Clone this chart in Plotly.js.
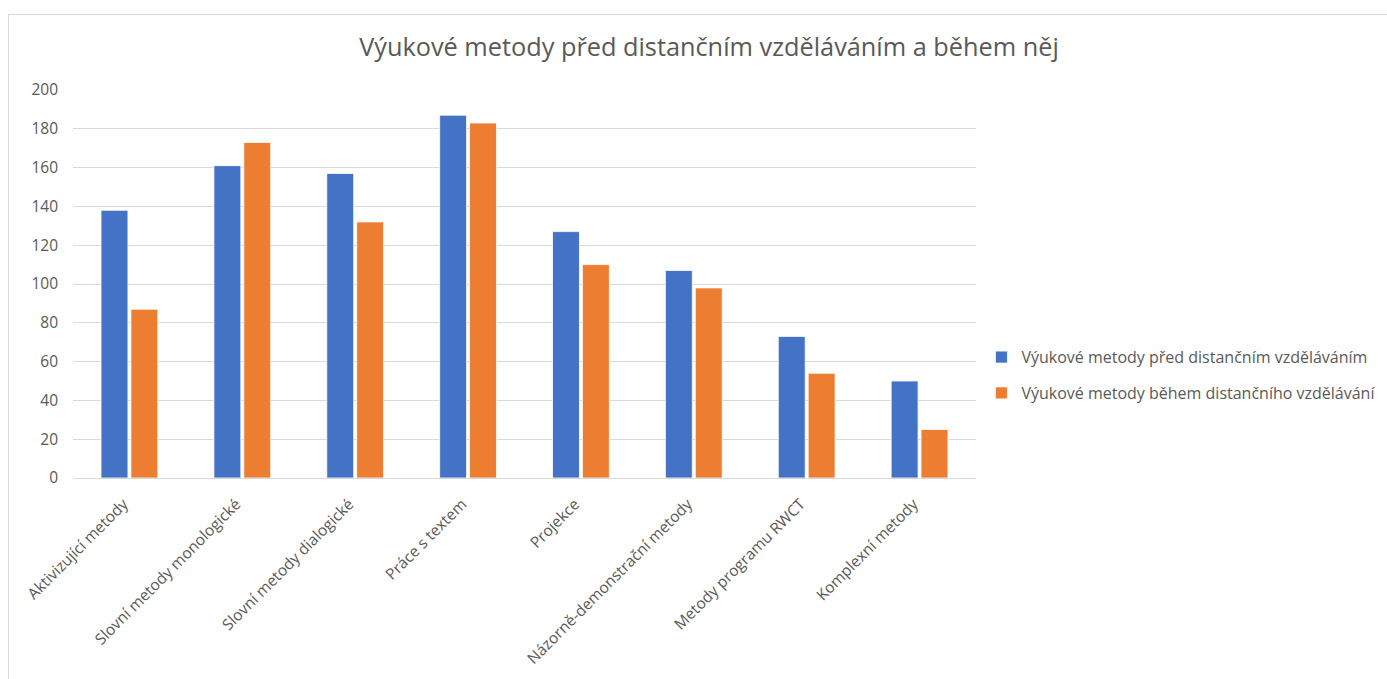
<!DOCTYPE html>
<html>
<head>
<meta charset="utf-8">
<script src="https://cdn.plot.ly/plotly-3.0.1.min.js"></script>
<style>
  html,body{margin:0;padding:0;background:#fff;overflow:hidden}
  #frame{position:absolute;left:8px;top:14px;width:1379px;height:665px;border-left:1px solid #d9d9d9;border-top:1px solid #d9d9d9;overflow:hidden}
  #chart{width:1420px;height:664px}
</style>
</head>
<body>
<div id="frame"><div id="chart"></div></div>
<script>
// ────── data ──────
const categories=[
  'Aktivizující metody',
  'Slovní metody monologické',
  'Slovní metody dialogické',
  'Práce s textem',
  'Projekce',
  'Názorně-demonstrační metody',
  'Metody programu RWCT',
  'Komplexní metody'
];
const beforeName='Výukové metody před distančním vzděláváním';
const duringName='Výukové metody během distančního vzdělávání';
const beforeVals=[138,161,157,187,127,107,73,50];
const duringVals=[87,173,132,183,110,98,54,25];
const yTicks=[0,20,40,60,80,100,120,140,160,180,200];

const textCol='#595959';
const gridCol='#d9d9d9';
const font='"Open Sans", "Noto Sans", sans-serif';

const traces=[
  {type:'bar',name:beforeName,x:categories,y:beforeVals,legendgroup:'a',
   marker:{color:'#4472c4',line:{color:'#fff',width:0.8}},hoverinfo:'x+y'},
  {type:'bar',name:duringName,x:categories,y:duringVals,legendgroup:'b',
   marker:{color:'#ed7d31',line:{color:'#fff',width:0.8}},hoverinfo:'x+y'}
];

// chart div is wider than the window so the legend never pushes the margins
const W=1420;
const layout={
  width:W,height:664,
  margin:{l:64,r:W-64-903,t:75,b:201},
  paper_bgcolor:'rgba(0,0,0,0)',plot_bgcolor:'#fff',
  font:{family:font,size:15.5,color:textCol},
  title:{text:'Výukové metody před distančním vzděláváním a během něj',
    font:{family:font,size:25.3,color:textCol},
    x:700/W,xanchor:'center',xref:'container',y:0.952,yanchor:'middle',yref:'container'},
  barmode:'group',bargap:0.47,bargroupgap:0.1,
  xaxis:{tickangle:-45,tickfont:{size:15.5,color:textCol},showgrid:false,
    showline:true,linecolor:gridCol,linewidth:1,ticks:'',
    ticklabelstandoff:10,ticklabelshift:-6,fixedrange:true},
  yaxis:{range:[0,200],tickvals:yTicks,ticktext:yTicks.map(String),
    tickfont:{size:15.5,color:textCol},gridcolor:gridCol,gridwidth:1,
    zeroline:true,zerolinecolor:gridCol,zerolinewidth:1,showline:false,
    ticks:'',ticklabelstandoff:14,fixedrange:true},
  legend:{x:1.006,xanchor:'left',y:0.265,yanchor:'middle',
    traceorder:'grouped',tracegroupgap:12,itemwidth:30,
    font:{size:16,color:textCol},bgcolor:'rgba(0,0,0,0)'},
  showlegend:true
};

Plotly.newPlot('chart',traces,layout,{displayModeBar:false,staticPlot:true});
</script>
</body>
</html>
